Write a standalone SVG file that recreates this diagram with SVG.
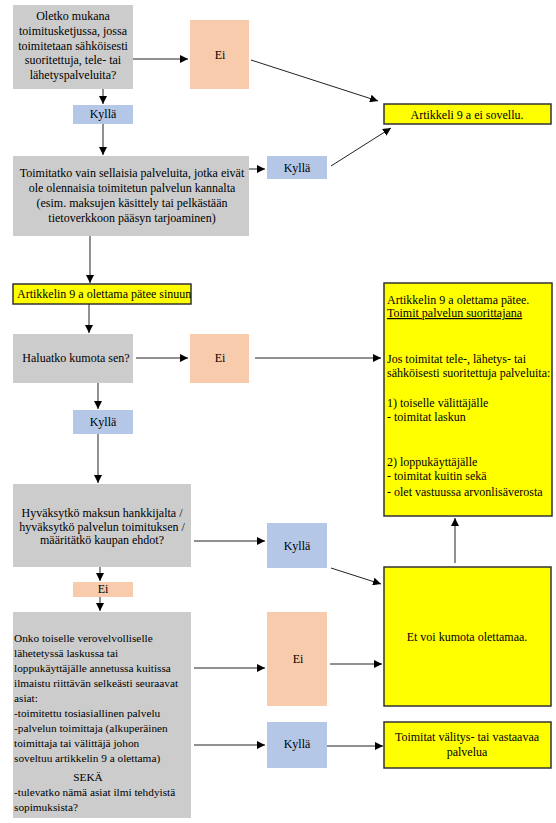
<svg xmlns="http://www.w3.org/2000/svg" width="556" height="823" viewBox="0 0 556 823" font-family="'Liberation Serif', 'Times New Roman', 'DejaVu Serif', serif" font-size="12">
<style>
text{font-family:'Liberation Serif','Times New Roman','DejaVu Serif',serif;font-size:12px;fill:#000}
.c{text-anchor:middle}
.s{font-size:11.3px}
.q{fill:#cccccc}
.ei{fill:#f8cbad}
.ky{fill:#b4c7e7}
.y{fill:#ffff00;stroke:#333;stroke-width:1.5}
.l{stroke:#222;stroke-width:1;fill:none;marker-end:url(#a)}
</style>
<defs>
<marker id="a" viewBox="0 0 10 10" refX="10" refY="5" markerWidth="8" markerHeight="8" markerUnits="userSpaceOnUse" orient="auto">
<path d="M0,0 L10,5 L0,10 z" fill="#000"/>
</marker>
</defs>
<rect width="556" height="823" fill="#fff"/>
<g id="connectors">
<line class="l" x1="133" y1="59" x2="188" y2="59"/>
<line class="l" x1="251" y1="60" x2="378" y2="101"/>
<line class="l" x1="103" y1="89" x2="103" y2="104"/>
<line class="l" x1="103" y1="124" x2="103" y2="155"/>
<line class="l" x1="249" y1="169" x2="265" y2="169"/>
<line class="l" x1="331" y1="166" x2="391" y2="128"/>
<line class="l" x1="90" y1="236" x2="90" y2="283"/>
<line class="l" x1="89" y1="304" x2="89" y2="333"/>
<line class="l" x1="136" y1="358" x2="188" y2="358"/>
<line class="l" x1="255" y1="358" x2="381" y2="358"/>
<line class="l" x1="98" y1="383" x2="98" y2="409"/>
<line class="l" x1="98" y1="434" x2="98" y2="483"/>
<line class="l" x1="194" y1="541" x2="265" y2="541"/>
<line class="l" x1="331" y1="568" x2="381" y2="584"/>
<line class="l" x1="100" y1="567" x2="100" y2="581"/>
<line class="l" x1="100" y1="597" x2="100" y2="611"/>
<line class="l" x1="194" y1="668" x2="265" y2="668"/>
<line class="l" x1="194" y1="745" x2="265" y2="745"/>
<line class="l" x1="330" y1="664" x2="382" y2="664"/>
<line class="l" x1="327" y1="746" x2="383" y2="746"/>
<line class="l" x1="455" y1="563" x2="455" y2="518"/>
</g>
<g id="q1"><rect class="q" x="13" y="5" width="120" height="84"/>
<text class="c" x="73" y="20">Oletko mukana</text>
<text class="c" x="73" y="35">toimitusketjussa, jossa</text>
<text class="c" x="73" y="49.5">toimitetaan sähköisesti</text>
<text class="c" x="73" y="64">suoritettuja, tele- tai</text>
<text class="c" x="73" y="79">lähetyspalveluita?</text></g>
<g id="ei1"><rect class="ei" x="190" y="20" width="59" height="69"/><text class="c" x="220" y="59">Ei</text></g>
<g id="ky1"><rect class="ky" x="73" y="105" width="60" height="19"/><text class="c" x="103" y="118">Kyllä</text></g>
<g id="nosovellu"><rect class="y" x="384" y="104" width="167" height="20"/><text class="c" x="467" y="119">Artikkeli 9 a ei sovellu.</text></g>
<g id="q2"><rect class="q" x="13" y="156" width="236" height="80"/>
<text class="c" x="132" y="177">Toimitatko vain sellaisia palveluita, jotka eivät</text>
<text class="c" x="132" y="192">ole olennaisia toimitetun palvelun kannalta</text>
<text class="c" x="132" y="207">(esim. maksujen käsittely tai pelkästään</text>
<text class="c" x="132" y="222">tietoverkkoon pääsyn tarjoaminen)</text></g>
<g id="ky2"><rect class="ky" x="267" y="156" width="60" height="23"/><text class="c" x="297" y="172">Kyllä</text></g>
<g id="patee"><rect class="y" x="13" y="284" width="178" height="20"/><text x="17" y="298">Artikkelin 9 a olettama pätee sinuun</text></g>
<g id="q3"><rect class="q" x="13" y="334" width="120" height="49"/><text class="c" x="76" y="362">Haluatko kumota sen?</text></g>
<g id="ei2"><rect class="ei" x="190" y="334" width="59" height="49"/><text class="c" x="220" y="362">Ei</text></g>
<g id="ky3"><rect class="ky" x="73" y="410" width="60" height="24"/><text class="c" x="103" y="426">Kyllä</text></g>
<g id="info"><rect class="y" x="384" y="283" width="168" height="233"/>
<text x="387" y="304">Artikkelin 9 a olettama pätee.</text>
<text x="387" y="317" text-decoration="underline">Toimit palvelun suorittajana</text>
<text x="387" y="363">Jos toimitat tele-, lähetys- tai</text>
<text x="387" y="377">sähköisesti suoritettuja palveluita:</text>
<text x="387" y="407">1) toiselle välittäjälle</text>
<text x="387" y="421">- toimitat laskun</text>
<text x="387" y="466">2) loppukäyttäjälle</text>
<text x="387" y="480">- toimitat kuitin sekä</text>
<text x="387" y="496">- olet vastuussa arvonlisäverosta</text></g>
<g id="q4"><rect class="q" x="13" y="484" width="178" height="83"/>
<text class="c" x="102" y="517">Hyväksytkö maksun hankkijalta /</text>
<text class="c" x="102" y="531">hyväksytkö palvelun toimituksen /</text>
<text class="c" x="102" y="544">määritätkö kaupan ehdot?</text></g>
<g id="ky4"><rect class="ky" x="267" y="523" width="60" height="45"/><text class="c" x="297" y="550">Kyllä</text></g>
<g id="ei3"><rect class="ei" x="73" y="582" width="60" height="15"/><text class="c" x="103" y="593">Ei</text></g>
<g id="q5"><rect class="q" x="13" y="612" width="178" height="206"/>
<text class="s" x="14" y="642">Onko toiselle verovelvolliselle</text>
<text class="s" x="14" y="657">lähetetyssä laskussa tai</text>
<text class="s" x="14" y="672">loppukäyttäjälle annetussa kuitissa</text>
<text class="s" x="14" y="687">ilmaistu riittävän selkeästi seuraavat</text>
<text class="s" x="14" y="702">asiat:</text>
<text class="s" x="14" y="717">-toimitettu tosiasiallinen palvelu</text>
<text class="s" x="14" y="732">-palvelun toimittaja (alkuperäinen</text>
<text class="s" x="14" y="747">toimittaja tai välittäjä johon</text>
<text class="s" x="14" y="762">soveltuu artikkelin 9 a olettama)</text>
<text class="c s" x="88" y="781">SEKÄ</text>
<text class="s" x="14" y="796">-tulevatko nämä asiat ilmi tehdyistä</text>
<text class="s" x="14" y="811">sopimuksista?</text></g>
<g id="ei4"><rect class="ei" x="267" y="612" width="60" height="94"/><text class="c" x="298" y="663">Ei</text></g>
<g id="ky5"><rect class="ky" x="267" y="722" width="60" height="46"/><text class="c" x="297" y="748">Kyllä</text></g>
<g id="etvoi"><rect class="y" x="384" y="567" width="167" height="139"/><text class="c" x="467" y="641">Et voi kumota olettamaa.</text></g>
<g id="toimitat"><rect class="y" x="384" y="722" width="167" height="46"/>
<text class="c" x="467" y="741">Toimitat välitys- tai vastaavaa</text>
<text class="c" x="467" y="756">palvelua</text></g>
</svg>
